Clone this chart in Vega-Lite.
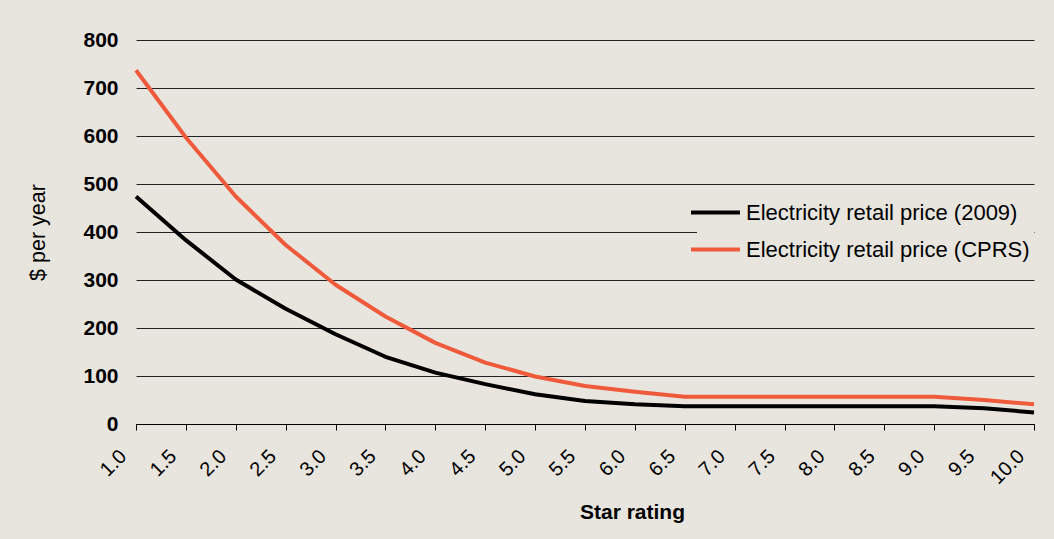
{
  "$schema": "https://vega.github.io/schema/vega-lite/v6.json",
  "autosize": {"type": "none"},
  "width": 898,
  "height": 384,
  "padding": {"left": 136, "top": 40, "right": 20, "bottom": 115},
  "background": "#E8E5DF",
  "config": {
    "view": {"stroke": null},
    "font": "Liberation Sans"
  },
  "data": {
    "values": [
      {"star": 1.0, "series": "Electricity retail price (2009)", "value": 474},
      {"star": 1.5, "series": "Electricity retail price (2009)", "value": 383},
      {"star": 2.0, "series": "Electricity retail price (2009)", "value": 301},
      {"star": 2.5, "series": "Electricity retail price (2009)", "value": 240},
      {"star": 3.0, "series": "Electricity retail price (2009)", "value": 187},
      {"star": 3.5, "series": "Electricity retail price (2009)", "value": 140},
      {"star": 4.0, "series": "Electricity retail price (2009)", "value": 107},
      {"star": 4.5, "series": "Electricity retail price (2009)", "value": 83},
      {"star": 5.0, "series": "Electricity retail price (2009)", "value": 62},
      {"star": 5.5, "series": "Electricity retail price (2009)", "value": 48},
      {"star": 6.0, "series": "Electricity retail price (2009)", "value": 41},
      {"star": 6.5, "series": "Electricity retail price (2009)", "value": 37},
      {"star": 7.0, "series": "Electricity retail price (2009)", "value": 37},
      {"star": 7.5, "series": "Electricity retail price (2009)", "value": 37},
      {"star": 8.0, "series": "Electricity retail price (2009)", "value": 37},
      {"star": 8.5, "series": "Electricity retail price (2009)", "value": 37},
      {"star": 9.0, "series": "Electricity retail price (2009)", "value": 37},
      {"star": 9.5, "series": "Electricity retail price (2009)", "value": 33},
      {"star": 10.0, "series": "Electricity retail price (2009)", "value": 24},
      {"star": 1.0, "series": "Electricity retail price (CPRS)", "value": 737},
      {"star": 1.5, "series": "Electricity retail price (CPRS)", "value": 597},
      {"star": 2.0, "series": "Electricity retail price (CPRS)", "value": 474},
      {"star": 2.5, "series": "Electricity retail price (CPRS)", "value": 373},
      {"star": 3.0, "series": "Electricity retail price (CPRS)", "value": 290},
      {"star": 3.5, "series": "Electricity retail price (CPRS)", "value": 224},
      {"star": 4.0, "series": "Electricity retail price (CPRS)", "value": 169},
      {"star": 4.5, "series": "Electricity retail price (CPRS)", "value": 128},
      {"star": 5.0, "series": "Electricity retail price (CPRS)", "value": 99},
      {"star": 5.5, "series": "Electricity retail price (CPRS)", "value": 79},
      {"star": 6.0, "series": "Electricity retail price (CPRS)", "value": 67},
      {"star": 6.5, "series": "Electricity retail price (CPRS)", "value": 57},
      {"star": 7.0, "series": "Electricity retail price (CPRS)", "value": 57},
      {"star": 7.5, "series": "Electricity retail price (CPRS)", "value": 57},
      {"star": 8.0, "series": "Electricity retail price (CPRS)", "value": 57},
      {"star": 8.5, "series": "Electricity retail price (CPRS)", "value": 57},
      {"star": 9.0, "series": "Electricity retail price (CPRS)", "value": 57},
      {"star": 9.5, "series": "Electricity retail price (CPRS)", "value": 50},
      {"star": 10.0, "series": "Electricity retail price (CPRS)", "value": 41}
    ]
  },
  "mark": {"type": "line", "strokeWidth": 4, "strokeJoin": "round"},
  "encoding": {
    "x": {
      "field": "star",
      "type": "quantitative",
      "scale": {"domain": [1, 10], "nice": false, "zero": false},
      "axis": {
        "title": "Star rating",
        "values": [1, 1.5, 2, 2.5, 3, 3.5, 4, 4.5, 5, 5.5, 6, 6.5, 7, 7.5, 8, 8.5, 9, 9.5, 10],
        "format": ".1f",
        "grid": false,
        "domain": true,
        "domainColor": "#000000",
        "domainWidth": 1,
        "ticks": true,
        "tickColor": "#000000",
        "tickSize": 6,
        "tickWidth": 1,
        "labelAngle": -45,
        "labelAlign": "right",
        "labelBaseline": "middle",
        "labelPadding": 23,
        "labelOffset": -13,
        "labelFontSize": 20,
        "labelColor": "#000000",
        "labelFont": "Liberation Sans",
        "labelOverlap": false,
        "labelFlush": false,
        "titleFont": "Liberation Sans",
        "titleFontSize": 21,
        "titleFontWeight": "bold",
        "titleColor": "#000000",
        "titleX": 496,
        "titleY": 88,
        "titleAlign": "center",
        "titleBaseline": "middle"
      }
    },
    "y": {
      "field": "value",
      "type": "quantitative",
      "scale": {"domain": [0, 800], "nice": false},
      "axis": {
        "title": "$ per year",
        "values": [0, 100, 200, 300, 400, 500, 600, 700, 800],
        "domain": false,
        "ticks": false,
        "grid": true,
        "gridColor": "#222222",
        "gridWidth": 1,
        "labelFontSize": 21,
        "labelFontWeight": "bold",
        "labelColor": "#000000",
        "labelFont": "Liberation Sans",
        "labelPadding": 18,
        "titleFont": "Liberation Sans",
        "titleFontSize": 21.5,
        "titleFontWeight": "normal",
        "titleColor": "#000000",
        "titleX": -98,
        "titleY": 192,
        "titleAngle": -90,
        "titleAlign": "center",
        "titleBaseline": "middle"
      }
    },
    "color": {
      "field": "series",
      "type": "nominal",
      "scale": {
        "domain": ["Electricity retail price (2009)", "Electricity retail price (CPRS)"],
        "range": ["#000000", "#EF5A3B"]
      },
      "legend": {
        "title": null,
        "orient": "none",
        "legendX": 561,
        "legendY": 154,
        "fillColor": "#E8E5DF",
        "padding": 4,
        "symbolType": "M-2,0H2",
        "symbolSize": 600,
        "symbolStrokeWidth": 4,
        "labelFontSize": 22,
        "labelFont": "Liberation Sans",
        "labelColor": "#000000",
        "labelOffset": 16,
        "labelLimit": 400,
        "rowPadding": 11
      }
    }
  }
}
